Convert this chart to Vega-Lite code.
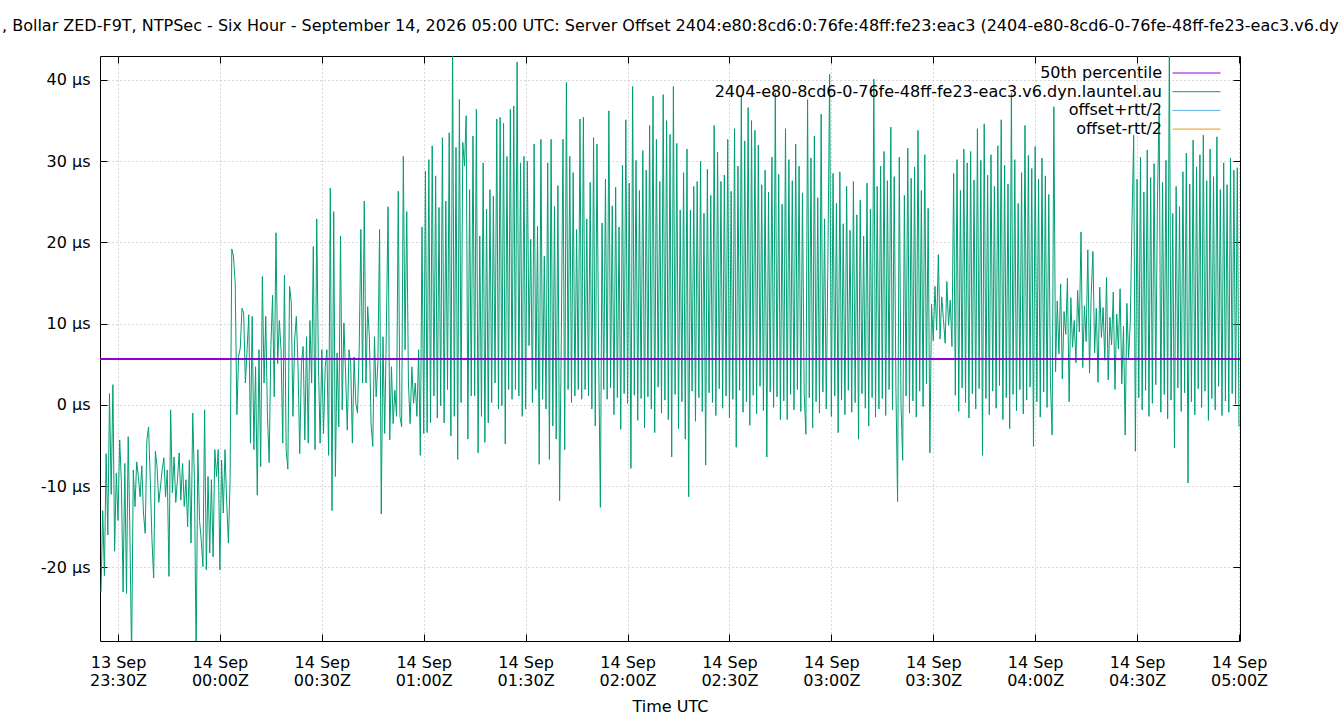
{
"$schema":"https://vega.github.io/schema/vega-lite/v6.json",
"width":1140,"height":585,
"autosize":{"type":"none"},
"padding":{"left":100,"top":56,"right":100,"bottom":79},
"background":"white",
"title":{"text":", Bollar ZED-F9T, NTPSec - Six Hour - September 14, 2026 05:00 UTC: Server Offset 2404:e80:8cd6:0:76fe:48ff:fe23:eac3 (2404-e80-8cd6-0-76fe-48ff-fe23-eac3.v6.dyn.launtel.au)","anchor":"start","frame":"group","dx":-98,"offset":9,"fontSize":16,"fontWeight":"normal","font":"DejaVu Sans","color":"black","baseline":"alphabetic"},
"config":{"font":"DejaVu Sans","view":{"stroke":"black","strokeWidth":1},
"axis":{"labelColor":"black","tickColor":"black","titleColor":"black","labelFontSize":16,"titleFontSize":16,"titleFontWeight":"normal","domain":false,"gridColor":"#b0b0b0","gridDash":[1,3],"tickSize":-7,"labelFlush":false,"labelOverlap":false}},
"data":{"values":[
{"t":"2026-09-13T23:25:00Z","v":-23},{"t":"2026-09-13T23:25:30Z","v":-13},
{"t":"2026-09-13T23:26:00Z","v":-21},{"t":"2026-09-13T23:26:30Z","v":-6},
{"t":"2026-09-13T23:27:00Z","v":-16},{"t":"2026-09-13T23:27:30Z","v":1.4},
{"t":"2026-09-13T23:28:00Z","v":-11},{"t":"2026-09-13T23:28:30Z","v":2.5},
{"t":"2026-09-13T23:29:00Z","v":-18},{"t":"2026-09-13T23:29:30Z","v":-8.4},
{"t":"2026-09-13T23:30:00Z","v":-14.2},{"t":"2026-09-13T23:30:30Z","v":-4.3},
{"t":"2026-09-13T23:31:00Z","v":-9.6},{"t":"2026-09-13T23:31:30Z","v":-23},
{"t":"2026-09-13T23:32:00Z","v":-7.2},{"t":"2026-09-13T23:32:30Z","v":-23.2},
{"t":"2026-09-13T23:33:00Z","v":-3.9},{"t":"2026-09-13T23:33:30Z","v":-15.8},
{"t":"2026-09-13T23:34:00Z","v":-31},{"t":"2026-09-13T23:34:30Z","v":-8},
{"t":"2026-09-13T23:35:00Z","v":-12.5},{"t":"2026-09-13T23:35:30Z","v":-7},
{"t":"2026-09-13T23:36:00Z","v":-8.8},{"t":"2026-09-13T23:36:30Z","v":-11.3},
{"t":"2026-09-13T23:37:00Z","v":-7.5},{"t":"2026-09-13T23:37:30Z","v":-13.3},
{"t":"2026-09-13T23:38:00Z","v":-15.8},{"t":"2026-09-13T23:38:30Z","v":-4.3},
{"t":"2026-09-13T23:39:00Z","v":-2.7},{"t":"2026-09-13T23:39:30Z","v":-9.2},
{"t":"2026-09-13T23:40:00Z","v":-16.6},{"t":"2026-09-13T23:40:30Z","v":-21.3},
{"t":"2026-09-13T23:41:00Z","v":-5.7},{"t":"2026-09-13T23:41:30Z","v":-7.6},
{"t":"2026-09-13T23:42:00Z","v":-12},{"t":"2026-09-13T23:42:30Z","v":-10.1},
{"t":"2026-09-13T23:43:00Z","v":-8},{"t":"2026-09-13T23:43:30Z","v":-6.5},
{"t":"2026-09-13T23:44:00Z","v":-11.3},{"t":"2026-09-13T23:44:30Z","v":-8},
{"t":"2026-09-13T23:45:00Z","v":-21.1},{"t":"2026-09-13T23:45:30Z","v":-0.6},
{"t":"2026-09-13T23:46:00Z","v":-10.8},{"t":"2026-09-13T23:46:30Z","v":-6.4},
{"t":"2026-09-13T23:47:00Z","v":-12},{"t":"2026-09-13T23:47:30Z","v":-9.2},
{"t":"2026-09-13T23:48:00Z","v":-5.9},{"t":"2026-09-13T23:48:30Z","v":-11.7},
{"t":"2026-09-13T23:49:00Z","v":-7.2},{"t":"2026-09-13T23:49:30Z","v":-12.5},
{"t":"2026-09-13T23:50:00Z","v":-9.2},{"t":"2026-09-13T23:50:30Z","v":-15},
{"t":"2026-09-13T23:51:00Z","v":-6.8},{"t":"2026-09-13T23:51:30Z","v":-17},
{"t":"2026-09-13T23:52:00Z","v":-1},{"t":"2026-09-13T23:52:30Z","v":-9.2},
{"t":"2026-09-13T23:53:00Z","v":-31},{"t":"2026-09-13T23:53:30Z","v":-5.5},
{"t":"2026-09-13T23:54:00Z","v":-14.2},{"t":"2026-09-13T23:54:30Z","v":-16.6},
{"t":"2026-09-13T23:55:00Z","v":-19.9},{"t":"2026-09-13T23:55:30Z","v":-0.6},
{"t":"2026-09-13T23:56:00Z","v":-20.3},{"t":"2026-09-13T23:56:30Z","v":-8.8},
{"t":"2026-09-13T23:57:00Z","v":-18.2},{"t":"2026-09-13T23:57:30Z","v":-9.2},
{"t":"2026-09-13T23:58:00Z","v":-18.7},{"t":"2026-09-13T23:58:30Z","v":-5.5},
{"t":"2026-09-13T23:59:00Z","v":-8.8},{"t":"2026-09-13T23:59:30Z","v":-5.5},
{"t":"2026-09-14T00:00:00Z","v":-20.3},{"t":"2026-09-14T00:00:30Z","v":-6.8},
{"t":"2026-09-14T00:01:00Z","v":-13.3},{"t":"2026-09-14T00:01:30Z","v":-5.5},
{"t":"2026-09-14T00:02:00Z","v":-12},{"t":"2026-09-14T00:02:30Z","v":-17},
{"t":"2026-09-14T00:03:00Z","v":-9.2},{"t":"2026-09-14T00:03:30Z","v":19.2},
{"t":"2026-09-14T00:04:00Z","v":18.3},{"t":"2026-09-14T00:04:30Z","v":15},
{"t":"2026-09-14T00:05:00Z","v":-1.2},{"t":"2026-09-14T00:05:30Z","v":6},
{"t":"2026-09-14T00:06:00Z","v":7},{"t":"2026-09-14T00:06:30Z","v":11.9},
{"t":"2026-09-14T00:07:00Z","v":11.3},{"t":"2026-09-14T00:07:30Z","v":2.7},
{"t":"2026-09-14T00:08:00Z","v":6.8},{"t":"2026-09-14T00:08:30Z","v":11.1},
{"t":"2026-09-14T00:09:00Z","v":-4.7},{"t":"2026-09-14T00:09:30Z","v":10.9},
{"t":"2026-09-14T00:10:00Z","v":-5.5},{"t":"2026-09-14T00:10:30Z","v":4.7},
{"t":"2026-09-14T00:11:00Z","v":-11.1},{"t":"2026-09-14T00:11:30Z","v":6.8},
{"t":"2026-09-14T00:12:00Z","v":-7.6},{"t":"2026-09-14T00:12:30Z","v":15.8},
{"t":"2026-09-14T00:13:00Z","v":2.7},{"t":"2026-09-14T00:13:30Z","v":10.9},
{"t":"2026-09-14T00:14:00Z","v":-1.4},{"t":"2026-09-14T00:14:30Z","v":-7.1},
{"t":"2026-09-14T00:15:00Z","v":7.2},{"t":"2026-09-14T00:15:30Z","v":13.5},
{"t":"2026-09-14T00:16:00Z","v":1.0},{"t":"2026-09-14T00:16:30Z","v":21.2},
{"t":"2026-09-14T00:17:00Z","v":5.1},{"t":"2026-09-14T00:17:30Z","v":10.4},
{"t":"2026-09-14T00:18:00Z","v":6.8},{"t":"2026-09-14T00:18:30Z","v":-4.7},
{"t":"2026-09-14T00:19:00Z","v":16},{"t":"2026-09-14T00:19:30Z","v":-5.5},
{"t":"2026-09-14T00:20:00Z","v":-7.9},{"t":"2026-09-14T00:20:30Z","v":14.6},
{"t":"2026-09-14T00:21:00Z","v":12.7},{"t":"2026-09-14T00:21:30Z","v":-1.4},
{"t":"2026-09-14T00:22:00Z","v":8},{"t":"2026-09-14T00:22:30Z","v":10.9},
{"t":"2026-09-14T00:23:00Z","v":4.7},{"t":"2026-09-14T00:23:30Z","v":-6.0},
{"t":"2026-09-14T00:24:00Z","v":5.1},{"t":"2026-09-14T00:24:30Z","v":7.2},
{"t":"2026-09-14T00:25:00Z","v":-4.3},{"t":"2026-09-14T00:25:30Z","v":8.4},
{"t":"2026-09-14T00:26:00Z","v":-4.7},{"t":"2026-09-14T00:26:30Z","v":10.4},
{"t":"2026-09-14T00:27:00Z","v":2.7},{"t":"2026-09-14T00:27:30Z","v":19.5},
{"t":"2026-09-14T00:28:00Z","v":-5.5},{"t":"2026-09-14T00:28:30Z","v":22.9},
{"t":"2026-09-14T00:29:00Z","v":5.1},{"t":"2026-09-14T00:29:30Z","v":-4.7},
{"t":"2026-09-14T00:30:00Z","v":6.8},{"t":"2026-09-14T00:30:30Z","v":-3.5},
{"t":"2026-09-14T00:31:00Z","v":4.7},{"t":"2026-09-14T00:31:30Z","v":6.8},
{"t":"2026-09-14T00:32:00Z","v":-6.2},{"t":"2026-09-14T00:32:30Z","v":26.7},
{"t":"2026-09-14T00:33:00Z","v":-13},{"t":"2026-09-14T00:33:30Z","v":23.8},
{"t":"2026-09-14T00:34:00Z","v":-8.8},{"t":"2026-09-14T00:34:30Z","v":6.4},
{"t":"2026-09-14T00:35:00Z","v":-2.7},{"t":"2026-09-14T00:35:30Z","v":20.8},
{"t":"2026-09-14T00:36:00Z","v":-0.6},{"t":"2026-09-14T00:36:30Z","v":10.1},
{"t":"2026-09-14T00:37:00Z","v":3.9},{"t":"2026-09-14T00:37:30Z","v":-3.1},
{"t":"2026-09-14T00:38:00Z","v":6.8},{"t":"2026-09-14T00:38:30Z","v":5.1},
{"t":"2026-09-14T00:39:00Z","v":-4.7},{"t":"2026-09-14T00:39:30Z","v":5.9},
{"t":"2026-09-14T00:40:00Z","v":0.2},{"t":"2026-09-14T00:40:30Z","v":-1},
{"t":"2026-09-14T00:41:00Z","v":6.8},{"t":"2026-09-14T00:41:30Z","v":21.6},
{"t":"2026-09-14T00:42:00Z","v":2.7},{"t":"2026-09-14T00:42:30Z","v":25.1},
{"t":"2026-09-14T00:43:00Z","v":2.7},{"t":"2026-09-14T00:43:30Z","v":12.1},
{"t":"2026-09-14T00:44:00Z","v":8.4},{"t":"2026-09-14T00:44:30Z","v":-2.3},
{"t":"2026-09-14T00:45:00Z","v":-5.1},{"t":"2026-09-14T00:45:30Z","v":8.4},
{"t":"2026-09-14T00:46:00Z","v":1.0},{"t":"2026-09-14T00:46:30Z","v":5.1},
{"t":"2026-09-14T00:47:00Z","v":21.6},{"t":"2026-09-14T00:47:30Z","v":-13.4},
{"t":"2026-09-14T00:48:00Z","v":8.4},{"t":"2026-09-14T00:48:30Z","v":-3.5},
{"t":"2026-09-14T00:49:00Z","v":9.2},{"t":"2026-09-14T00:49:30Z","v":24.4},
{"t":"2026-09-14T00:50:00Z","v":-4.3},{"t":"2026-09-14T00:50:30Z","v":4.7},
{"t":"2026-09-14T00:51:00Z","v":-2.3},{"t":"2026-09-14T00:51:30Z","v":1.8},
{"t":"2026-09-14T00:52:00Z","v":-1.4},{"t":"2026-09-14T00:52:30Z","v":26.3},
{"t":"2026-09-14T00:53:00Z","v":-1.4},{"t":"2026-09-14T00:53:30Z","v":-2.7},
{"t":"2026-09-14T00:54:00Z","v":30.6},{"t":"2026-09-14T00:54:30Z","v":6.8},
{"t":"2026-09-14T00:55:00Z","v":23.8},{"t":"2026-09-14T00:55:30Z","v":2.7},
{"t":"2026-09-14T00:56:00Z","v":-2.3},{"t":"2026-09-14T00:56:30Z","v":4.7},
{"t":"2026-09-14T00:57:00Z","v":0.2},{"t":"2026-09-14T00:57:30Z","v":2.7},
{"t":"2026-09-14T00:58:00Z","v":-1.4},{"t":"2026-09-14T00:58:30Z","v":6.8},
{"t":"2026-09-14T00:59:00Z","v":-6.2},{"t":"2026-09-14T00:59:30Z","v":21.9},
{"t":"2026-09-14T01:00:00Z","v":-3.5},{"t":"2026-09-14T01:00:30Z","v":28.8},
{"t":"2026-09-14T01:01:00Z","v":-3.4},{"t":"2026-09-14T01:01:30Z","v":30.2},
{"t":"2026-09-14T01:02:00Z","v":-2.2},{"t":"2026-09-14T01:02:30Z","v":31.9},
{"t":"2026-09-14T01:03:00Z","v":1.1},{"t":"2026-09-14T01:03:30Z","v":28.2},
{"t":"2026-09-14T01:04:00Z","v":-1.6},{"t":"2026-09-14T01:04:30Z","v":24.3},
{"t":"2026-09-14T01:05:00Z","v":-0.1},{"t":"2026-09-14T01:05:30Z","v":32.9},
{"t":"2026-09-14T01:06:00Z","v":-2.2},{"t":"2026-09-14T01:06:30Z","v":25.1},
{"t":"2026-09-14T01:07:00Z","v":1.9},{"t":"2026-09-14T01:07:30Z","v":33.5},
{"t":"2026-09-14T01:08:00Z","v":-3.8},{"t":"2026-09-14T01:08:30Z","v":45},
{"t":"2026-09-14T01:09:00Z","v":-1.4},{"t":"2026-09-14T01:09:30Z","v":31.7},
{"t":"2026-09-14T01:10:00Z","v":-6.7},{"t":"2026-09-14T01:10:30Z","v":37.6},
{"t":"2026-09-14T01:11:00Z","v":0.3},{"t":"2026-09-14T01:11:30Z","v":32.3},
{"t":"2026-09-14T01:12:00Z","v":29.4},{"t":"2026-09-14T01:12:30Z","v":35.6},
{"t":"2026-09-14T01:13:00Z","v":-4.2},{"t":"2026-09-14T01:13:30Z","v":26.5},
{"t":"2026-09-14T01:14:00Z","v":1.1},{"t":"2026-09-14T01:14:30Z","v":33.1},
{"t":"2026-09-14T01:15:00Z","v":1.1},{"t":"2026-09-14T01:15:30Z","v":36.4},
{"t":"2026-09-14T01:16:00Z","v":-5.9},{"t":"2026-09-14T01:16:30Z","v":20.8},
{"t":"2026-09-14T01:17:00Z","v":-1.4},{"t":"2026-09-14T01:17:30Z","v":29.8},
{"t":"2026-09-14T01:18:00Z","v":-4.6},{"t":"2026-09-14T01:18:30Z","v":24.1},
{"t":"2026-09-14T01:19:00Z","v":-2.2},{"t":"2026-09-14T01:19:30Z","v":26.5},
{"t":"2026-09-14T01:20:00Z","v":0.3},{"t":"2026-09-14T01:20:30Z","v":25.7},
{"t":"2026-09-14T01:21:00Z","v":2.7},{"t":"2026-09-14T01:21:30Z","v":35.2},
{"t":"2026-09-14T01:22:00Z","v":-0.5},{"t":"2026-09-14T01:22:30Z","v":35.4},
{"t":"2026-09-14T01:23:00Z","v":-0.1},{"t":"2026-09-14T01:23:30Z","v":34.7},
{"t":"2026-09-14T01:24:00Z","v":-4.8},{"t":"2026-09-14T01:24:30Z","v":30.6},
{"t":"2026-09-14T01:25:00Z","v":1.9},{"t":"2026-09-14T01:25:30Z","v":36.4},
{"t":"2026-09-14T01:26:00Z","v":0.7},{"t":"2026-09-14T01:26:30Z","v":36.8},
{"t":"2026-09-14T01:27:00Z","v":1.9},{"t":"2026-09-14T01:27:30Z","v":42.2},
{"t":"2026-09-14T01:28:00Z","v":1.1},{"t":"2026-09-14T01:28:30Z","v":29.8},
{"t":"2026-09-14T01:29:00Z","v":-1.4},{"t":"2026-09-14T01:29:30Z","v":30.6},
{"t":"2026-09-14T01:30:00Z","v":-0.5},{"t":"2026-09-14T01:30:30Z","v":30.0},
{"t":"2026-09-14T01:31:00Z","v":7.3},{"t":"2026-09-14T01:31:30Z","v":20.4},
{"t":"2026-09-14T01:32:00Z","v":0.3},{"t":"2026-09-14T01:32:30Z","v":32.1},
{"t":"2026-09-14T01:33:00Z","v":1.9},{"t":"2026-09-14T01:33:30Z","v":22},
{"t":"2026-09-14T01:34:00Z","v":-7.3},{"t":"2026-09-14T01:34:30Z","v":32.7},
{"t":"2026-09-14T01:35:00Z","v":0.7},{"t":"2026-09-14T01:35:30Z","v":18.3},
{"t":"2026-09-14T01:36:00Z","v":-0.5},{"t":"2026-09-14T01:36:30Z","v":29.8},
{"t":"2026-09-14T01:37:00Z","v":-6.7},{"t":"2026-09-14T01:37:30Z","v":32.7},
{"t":"2026-09-14T01:38:00Z","v":-2.6},{"t":"2026-09-14T01:38:30Z","v":24.5},
{"t":"2026-09-14T01:39:00Z","v":-4.2},{"t":"2026-09-14T01:39:30Z","v":27.0},
{"t":"2026-09-14T01:40:00Z","v":-11.8},{"t":"2026-09-14T01:40:30Z","v":8.1},
{"t":"2026-09-14T01:41:00Z","v":32.7},{"t":"2026-09-14T01:41:30Z","v":-5.5},
{"t":"2026-09-14T01:42:00Z","v":39.7},{"t":"2026-09-14T01:42:30Z","v":1.9},
{"t":"2026-09-14T01:43:00Z","v":30.6},{"t":"2026-09-14T01:43:30Z","v":0.3},
{"t":"2026-09-14T01:44:00Z","v":28.6},{"t":"2026-09-14T01:44:30Z","v":1.1},
{"t":"2026-09-14T01:45:00Z","v":21.6},{"t":"2026-09-14T01:45:30Z","v":1.9},
{"t":"2026-09-14T01:46:00Z","v":35.2},{"t":"2026-09-14T01:46:30Z","v":0.7},
{"t":"2026-09-14T01:47:00Z","v":35.4},{"t":"2026-09-14T01:47:30Z","v":1.9},
{"t":"2026-09-14T01:48:00Z","v":22.9},{"t":"2026-09-14T01:48:30Z","v":1.1},
{"t":"2026-09-14T01:49:00Z","v":27.4},{"t":"2026-09-14T01:49:30Z","v":-0.5},
{"t":"2026-09-14T01:50:00Z","v":32.9},{"t":"2026-09-14T01:50:30Z","v":-2.6},
{"t":"2026-09-14T01:51:00Z","v":32.1},{"t":"2026-09-14T01:51:30Z","v":6.0},
{"t":"2026-09-14T01:52:00Z","v":-12.6},{"t":"2026-09-14T01:52:30Z","v":22.4},
{"t":"2026-09-14T01:53:00Z","v":1.9},{"t":"2026-09-14T01:53:30Z","v":27.8},
{"t":"2026-09-14T01:54:00Z","v":0.7},{"t":"2026-09-14T01:54:30Z","v":36.2},
{"t":"2026-09-14T01:55:00Z","v":2.1},{"t":"2026-09-14T01:55:30Z","v":24.5},
{"t":"2026-09-14T01:56:00Z","v":-1.2},{"t":"2026-09-14T01:56:30Z","v":26.8},
{"t":"2026-09-14T01:57:00Z","v":0.9},{"t":"2026-09-14T01:57:30Z","v":21.9},
{"t":"2026-09-14T01:58:00Z","v":-3.0},{"t":"2026-09-14T01:58:30Z","v":29.5},
{"t":"2026-09-14T01:59:00Z","v":1.4},{"t":"2026-09-14T01:59:30Z","v":35.1},
{"t":"2026-09-14T02:00:00Z","v":0.2},{"t":"2026-09-14T02:00:30Z","v":27.3},
{"t":"2026-09-14T02:01:00Z","v":-7.8},{"t":"2026-09-14T02:01:30Z","v":39.2},
{"t":"2026-09-14T02:02:00Z","v":1.2},{"t":"2026-09-14T02:02:30Z","v":30.1},
{"t":"2026-09-14T02:03:00Z","v":-1.9},{"t":"2026-09-14T02:03:30Z","v":26.4},
{"t":"2026-09-14T02:04:00Z","v":0.8},{"t":"2026-09-14T02:04:30Z","v":31.3},
{"t":"2026-09-14T02:05:00Z","v":-2.8},{"t":"2026-09-14T02:05:30Z","v":28.9},
{"t":"2026-09-14T02:06:00Z","v":1.0},{"t":"2026-09-14T02:06:30Z","v":34.4},
{"t":"2026-09-14T02:07:00Z","v":-0.5},{"t":"2026-09-14T02:07:30Z","v":38.0},
{"t":"2026-09-14T02:08:00Z","v":-3.4},{"t":"2026-09-14T02:08:30Z","v":32.7},
{"t":"2026-09-14T02:09:00Z","v":2.2},{"t":"2026-09-14T02:09:30Z","v":27.5},
{"t":"2026-09-14T02:10:00Z","v":-1.0},{"t":"2026-09-14T02:10:30Z","v":38.2},
{"t":"2026-09-14T02:11:00Z","v":0.6},{"t":"2026-09-14T02:11:30Z","v":35.0},
{"t":"2026-09-14T02:12:00Z","v":-1.8},{"t":"2026-09-14T02:12:30Z","v":33.3},
{"t":"2026-09-14T02:13:00Z","v":-6.4},{"t":"2026-09-14T02:13:30Z","v":39.2},
{"t":"2026-09-14T02:14:00Z","v":1.3},{"t":"2026-09-14T02:14:30Z","v":32.2},
{"t":"2026-09-14T02:15:00Z","v":-2.9},{"t":"2026-09-14T02:15:30Z","v":24.0},
{"t":"2026-09-14T02:16:00Z","v":0.4},{"t":"2026-09-14T02:16:30Z","v":28.6},
{"t":"2026-09-14T02:17:00Z","v":-4.2},{"t":"2026-09-14T02:17:30Z","v":31.5},
{"t":"2026-09-14T02:18:00Z","v":-11.3},{"t":"2026-09-14T02:18:30Z","v":24.0},
{"t":"2026-09-14T02:19:00Z","v":1.7},{"t":"2026-09-14T02:19:30Z","v":26.9},
{"t":"2026-09-14T02:20:00Z","v":-2.0},{"t":"2026-09-14T02:20:30Z","v":27.5},
{"t":"2026-09-14T02:21:00Z","v":0.9},{"t":"2026-09-14T02:21:30Z","v":30.0},
{"t":"2026-09-14T02:22:00Z","v":-0.8},{"t":"2026-09-14T02:22:30Z","v":23.6},
{"t":"2026-09-14T02:23:00Z","v":-7.4},{"t":"2026-09-14T02:23:30Z","v":29.0},
{"t":"2026-09-14T02:24:00Z","v":1.5},{"t":"2026-09-14T02:24:30Z","v":25.8},
{"t":"2026-09-14T02:25:00Z","v":0.3},{"t":"2026-09-14T02:25:30Z","v":34.4},
{"t":"2026-09-14T02:26:00Z","v":-1.3},{"t":"2026-09-14T02:26:30Z","v":31.1},
{"t":"2026-09-14T02:27:00Z","v":2.0},{"t":"2026-09-14T02:27:30Z","v":27.5},
{"t":"2026-09-14T02:28:00Z","v":-0.4},{"t":"2026-09-14T02:28:30Z","v":28.3},
{"t":"2026-09-14T02:29:00Z","v":1.1},{"t":"2026-09-14T02:29:30Z","v":32.7},
{"t":"2026-09-14T02:30:00Z","v":-1.6},{"t":"2026-09-14T02:30:30Z","v":26.3},
{"t":"2026-09-14T02:31:00Z","v":0.7},{"t":"2026-09-14T02:31:30Z","v":34.0},
{"t":"2026-09-14T02:32:00Z","v":-5.2},{"t":"2026-09-14T02:32:30Z","v":29.4},
{"t":"2026-09-14T02:33:00Z","v":1.8},{"t":"2026-09-14T02:33:30Z","v":38.1},
{"t":"2026-09-14T02:34:00Z","v":-0.9},{"t":"2026-09-14T02:34:30Z","v":32.5},
{"t":"2026-09-14T02:35:00Z","v":0.4},{"t":"2026-09-14T02:35:30Z","v":36.6},
{"t":"2026-09-14T02:36:00Z","v":-2.5},{"t":"2026-09-14T02:36:30Z","v":35.0},
{"t":"2026-09-14T02:37:00Z","v":1.2},{"t":"2026-09-14T02:37:30Z","v":33.8},
{"t":"2026-09-14T02:38:00Z","v":-1.1},{"t":"2026-09-14T02:38:30Z","v":32.0},
{"t":"2026-09-14T02:39:00Z","v":2.3},{"t":"2026-09-14T02:39:30Z","v":27.1},
{"t":"2026-09-14T02:40:00Z","v":-0.7},{"t":"2026-09-14T02:40:30Z","v":28.9},
{"t":"2026-09-14T02:41:00Z","v":-6.4},{"t":"2026-09-14T02:41:30Z","v":26.2},
{"t":"2026-09-14T02:42:00Z","v":1.6},{"t":"2026-09-14T02:42:30Z","v":30.5},
{"t":"2026-09-14T02:43:00Z","v":-0.3},{"t":"2026-09-14T02:43:30Z","v":38.4},
{"t":"2026-09-14T02:44:00Z","v":1.0},{"t":"2026-09-14T02:44:30Z","v":28.4},
{"t":"2026-09-14T02:45:00Z","v":-1.8},{"t":"2026-09-14T02:45:30Z","v":24.7},
{"t":"2026-09-14T02:46:00Z","v":0.5},{"t":"2026-09-14T02:46:30Z","v":34.0},
{"t":"2026-09-14T02:47:00Z","v":-1.8},{"t":"2026-09-14T02:47:30Z","v":30.2},
{"t":"2026-09-14T02:48:00Z","v":1.3},{"t":"2026-09-14T02:48:30Z","v":27.6},
{"t":"2026-09-14T02:49:00Z","v":-0.6},{"t":"2026-09-14T02:49:30Z","v":32.1},
{"t":"2026-09-14T02:50:00Z","v":1.9},{"t":"2026-09-14T02:50:30Z","v":29.4},
{"t":"2026-09-14T02:51:00Z","v":-0.8},{"t":"2026-09-14T02:51:30Z","v":26.1},
{"t":"2026-09-14T02:52:00Z","v":1.5},{"t":"2026-09-14T02:52:30Z","v":-3.6},
{"t":"2026-09-14T02:53:00Z","v":37.6},{"t":"2026-09-14T02:53:30Z","v":0.9},
{"t":"2026-09-14T02:54:00Z","v":30.4},{"t":"2026-09-14T02:54:30Z","v":-2.8},
{"t":"2026-09-14T02:55:00Z","v":33.1},{"t":"2026-09-14T02:55:30Z","v":0.4},
{"t":"2026-09-14T02:56:00Z","v":25.5},{"t":"2026-09-14T02:56:30Z","v":-1.0},
{"t":"2026-09-14T02:57:00Z","v":35.8},{"t":"2026-09-14T02:57:30Z","v":1.6},
{"t":"2026-09-14T02:58:00Z","v":22.9},{"t":"2026-09-14T02:58:30Z","v":-0.5},
{"t":"2026-09-14T02:59:00Z","v":18.7},{"t":"2026-09-14T02:59:30Z","v":40.7},
{"t":"2026-09-14T03:00:00Z","v":-1.4},{"t":"2026-09-14T03:00:30Z","v":28.5},
{"t":"2026-09-14T03:01:00Z","v":1.1},{"t":"2026-09-14T03:01:30Z","v":24.8},
{"t":"2026-09-14T03:02:00Z","v":-3.4},{"t":"2026-09-14T03:02:30Z","v":28.7},
{"t":"2026-09-14T03:03:00Z","v":0.6},{"t":"2026-09-14T03:03:30Z","v":22.3},
{"t":"2026-09-14T03:04:00Z","v":-1.2},{"t":"2026-09-14T03:04:30Z","v":26.9},
{"t":"2026-09-14T03:05:00Z","v":1.8},{"t":"2026-09-14T03:05:30Z","v":21.5},
{"t":"2026-09-14T03:06:00Z","v":-0.9},{"t":"2026-09-14T03:06:30Z","v":27.5},
{"t":"2026-09-14T03:07:00Z","v":0.3},{"t":"2026-09-14T03:07:30Z","v":23.4},
{"t":"2026-09-14T03:08:00Z","v":-4.2},{"t":"2026-09-14T03:08:30Z","v":25.2},
{"t":"2026-09-14T03:09:00Z","v":1.4},{"t":"2026-09-14T03:09:30Z","v":20.8},
{"t":"2026-09-14T03:10:00Z","v":-0.4},{"t":"2026-09-14T03:10:30Z","v":27.3},
{"t":"2026-09-14T03:11:00Z","v":-2.6},{"t":"2026-09-14T03:11:30Z","v":24.1},
{"t":"2026-09-14T03:12:00Z","v":0.9},{"t":"2026-09-14T03:12:30Z","v":40.1},
{"t":"2026-09-14T03:13:00Z","v":-1.5},{"t":"2026-09-14T03:13:30Z","v":26.9},
{"t":"2026-09-14T03:14:00Z","v":-0.5},{"t":"2026-09-14T03:14:30Z","v":29.4},
{"t":"2026-09-14T03:15:00Z","v":0.8},{"t":"2026-09-14T03:15:30Z","v":31.2},
{"t":"2026-09-14T03:16:00Z","v":-1.3},{"t":"2026-09-14T03:16:30Z","v":27.6},
{"t":"2026-09-14T03:17:00Z","v":1.9},{"t":"2026-09-14T03:17:30Z","v":34.2},
{"t":"2026-09-14T03:18:00Z","v":-0.6},{"t":"2026-09-14T03:18:30Z","v":28.1},
{"t":"2026-09-14T03:19:00Z","v":2.3},{"t":"2026-09-14T03:19:30Z","v":-11.9},
{"t":"2026-09-14T03:20:00Z","v":30.5},{"t":"2026-09-14T03:20:30Z","v":0.2},
{"t":"2026-09-14T03:21:00Z","v":-6.8},{"t":"2026-09-14T03:21:30Z","v":25.8},
{"t":"2026-09-14T03:22:00Z","v":1.1},{"t":"2026-09-14T03:22:30Z","v":31.6},
{"t":"2026-09-14T03:23:00Z","v":-1.0},{"t":"2026-09-14T03:23:30Z","v":27.9},
{"t":"2026-09-14T03:24:00Z","v":0.5},{"t":"2026-09-14T03:24:30Z","v":29.3},
{"t":"2026-09-14T03:25:00Z","v":-1.5},{"t":"2026-09-14T03:25:30Z","v":33.8},
{"t":"2026-09-14T03:26:00Z","v":1.7},{"t":"2026-09-14T03:26:30Z","v":26.4},
{"t":"2026-09-14T03:27:00Z","v":-0.2},{"t":"2026-09-14T03:27:30Z","v":30.8},
{"t":"2026-09-14T03:28:00Z","v":2.6},{"t":"2026-09-14T03:28:30Z","v":24.2},
{"t":"2026-09-14T03:29:00Z","v":-5.9},{"t":"2026-09-14T03:29:30Z","v":12.4},
{"t":"2026-09-14T03:30:00Z","v":7.9},{"t":"2026-09-14T03:30:30Z","v":14.6},
{"t":"2026-09-14T03:31:00Z","v":9.2},{"t":"2026-09-14T03:31:30Z","v":18.5},
{"t":"2026-09-14T03:32:00Z","v":8.1},{"t":"2026-09-14T03:32:30Z","v":13.3},
{"t":"2026-09-14T03:33:00Z","v":10.5},{"t":"2026-09-14T03:33:30Z","v":7.6},
{"t":"2026-09-14T03:34:00Z","v":15.2},{"t":"2026-09-14T03:34:30Z","v":9.8},
{"t":"2026-09-14T03:35:00Z","v":12.9},{"t":"2026-09-14T03:35:30Z","v":7.2},
{"t":"2026-09-14T03:36:00Z","v":28.5},{"t":"2026-09-14T03:36:30Z","v":1.2},
{"t":"2026-09-14T03:37:00Z","v":30.2},{"t":"2026-09-14T03:37:30Z","v":-0.8},
{"t":"2026-09-14T03:38:00Z","v":26.4},{"t":"2026-09-14T03:38:30Z","v":2.1},
{"t":"2026-09-14T03:39:00Z","v":31.5},{"t":"2026-09-14T03:39:30Z","v":0.3},
{"t":"2026-09-14T03:40:00Z","v":29.8},{"t":"2026-09-14T03:40:30Z","v":-1.6},
{"t":"2026-09-14T03:41:00Z","v":31.2},{"t":"2026-09-14T03:41:30Z","v":1.4},
{"t":"2026-09-14T03:42:00Z","v":27.7},{"t":"2026-09-14T03:42:30Z","v":-0.5},
{"t":"2026-09-14T03:43:00Z","v":34.0},{"t":"2026-09-14T03:43:30Z","v":2.0},
{"t":"2026-09-14T03:44:00Z","v":30.1},{"t":"2026-09-14T03:44:30Z","v":-6.2},
{"t":"2026-09-14T03:45:00Z","v":34.6},{"t":"2026-09-14T03:45:30Z","v":0.8},
{"t":"2026-09-14T03:46:00Z","v":28.3},{"t":"2026-09-14T03:46:30Z","v":-1.2},
{"t":"2026-09-14T03:47:00Z","v":30.8},{"t":"2026-09-14T03:47:30Z","v":1.7},
{"t":"2026-09-14T03:48:00Z","v":26.9},{"t":"2026-09-14T03:48:30Z","v":-0.4},
{"t":"2026-09-14T03:49:00Z","v":31.9},{"t":"2026-09-14T03:49:30Z","v":2.4},
{"t":"2026-09-14T03:50:00Z","v":35.1},{"t":"2026-09-14T03:50:30Z","v":-1.8},
{"t":"2026-09-14T03:51:00Z","v":29.5},{"t":"2026-09-14T03:51:30Z","v":0.9},
{"t":"2026-09-14T03:52:00Z","v":27.2},{"t":"2026-09-14T03:52:30Z","v":-2.9},
{"t":"2026-09-14T03:53:00Z","v":38.4},{"t":"2026-09-14T03:53:30Z","v":1.3},
{"t":"2026-09-14T03:54:00Z","v":30.2},{"t":"2026-09-14T03:54:30Z","v":-0.7},
{"t":"2026-09-14T03:55:00Z","v":24.8},{"t":"2026-09-14T03:55:30Z","v":1.9},
{"t":"2026-09-14T03:56:00Z","v":28.6},{"t":"2026-09-14T03:56:30Z","v":-1.1},
{"t":"2026-09-14T03:57:00Z","v":34.4},{"t":"2026-09-14T03:57:30Z","v":0.6},
{"t":"2026-09-14T03:58:00Z","v":30.7},{"t":"2026-09-14T03:58:30Z","v":2.2},
{"t":"2026-09-14T03:59:00Z","v":29.1},{"t":"2026-09-14T03:59:30Z","v":-5.1},
{"t":"2026-09-14T04:00:00Z","v":31.8},{"t":"2026-09-14T04:00:30Z","v":0.4},
{"t":"2026-09-14T04:01:00Z","v":27.8},{"t":"2026-09-14T04:01:30Z","v":-1.5},
{"t":"2026-09-14T04:02:00Z","v":30.4},{"t":"2026-09-14T04:02:30Z","v":1.6},
{"t":"2026-09-14T04:03:00Z","v":28.2},{"t":"2026-09-14T04:03:30Z","v":-0.3},
{"t":"2026-09-14T04:04:00Z","v":25.9},{"t":"2026-09-14T04:04:30Z","v":2.8},
{"t":"2026-09-14T04:05:00Z","v":-3.7},{"t":"2026-09-14T04:05:30Z","v":36.7},
{"t":"2026-09-14T04:06:00Z","v":4.1},{"t":"2026-09-14T04:06:30Z","v":12.8},
{"t":"2026-09-14T04:07:00Z","v":6.3},{"t":"2026-09-14T04:07:30Z","v":14.9},
{"t":"2026-09-14T04:08:00Z","v":3.2},{"t":"2026-09-14T04:08:30Z","v":11.5},
{"t":"2026-09-14T04:09:00Z","v":8.7},{"t":"2026-09-14T04:09:30Z","v":15.6},
{"t":"2026-09-14T04:10:00Z","v":0.4},{"t":"2026-09-14T04:10:30Z","v":13.2},
{"t":"2026-09-14T04:11:00Z","v":7.1},{"t":"2026-09-14T04:11:30Z","v":10.4},
{"t":"2026-09-14T04:12:00Z","v":5.2},{"t":"2026-09-14T04:12:30Z","v":14.1},
{"t":"2026-09-14T04:13:00Z","v":9.0},{"t":"2026-09-14T04:13:30Z","v":21.3},
{"t":"2026-09-14T04:14:00Z","v":4.6},{"t":"2026-09-14T04:14:30Z","v":12.2},
{"t":"2026-09-14T04:15:00Z","v":7.8},{"t":"2026-09-14T04:15:30Z","v":19.1},
{"t":"2026-09-14T04:16:00Z","v":3.9},{"t":"2026-09-14T04:16:30Z","v":13.6},
{"t":"2026-09-14T04:17:00Z","v":18.9},{"t":"2026-09-14T04:17:30Z","v":6.4},
{"t":"2026-09-14T04:18:00Z","v":11.9},{"t":"2026-09-14T04:18:30Z","v":2.8},
{"t":"2026-09-14T04:19:00Z","v":14.5},{"t":"2026-09-14T04:19:30Z","v":8.3},
{"t":"2026-09-14T04:20:00Z","v":12.0},{"t":"2026-09-14T04:20:30Z","v":5.5},
{"t":"2026-09-14T04:21:00Z","v":15.7},{"t":"2026-09-14T04:21:30Z","v":3.1},
{"t":"2026-09-14T04:22:00Z","v":10.8},{"t":"2026-09-14T04:22:30Z","v":7.4},
{"t":"2026-09-14T04:23:00Z","v":13.9},{"t":"2026-09-14T04:23:30Z","v":1.9},
{"t":"2026-09-14T04:24:00Z","v":11.2},{"t":"2026-09-14T04:24:30Z","v":6.9},
{"t":"2026-09-14T04:25:00Z","v":14.3},{"t":"2026-09-14T04:25:30Z","v":2.6},
{"t":"2026-09-14T04:26:00Z","v":9.7},{"t":"2026-09-14T04:26:30Z","v":-3.7},
{"t":"2026-09-14T04:27:00Z","v":12.5},{"t":"2026-09-14T04:27:30Z","v":5.8},
{"t":"2026-09-14T04:28:00Z","v":10.1},{"t":"2026-09-14T04:28:30Z","v":22.5},
{"t":"2026-09-14T04:29:00Z","v":33.2},{"t":"2026-09-14T04:29:30Z","v":-5.7},
{"t":"2026-09-14T04:30:00Z","v":27.8},{"t":"2026-09-14T04:30:30Z","v":0.9},
{"t":"2026-09-14T04:31:00Z","v":30.5},{"t":"2026-09-14T04:31:30Z","v":-0.6},
{"t":"2026-09-14T04:32:00Z","v":26.2},{"t":"2026-09-14T04:32:30Z","v":1.8},
{"t":"2026-09-14T04:33:00Z","v":31.4},{"t":"2026-09-14T04:33:30Z","v":-1.4},
{"t":"2026-09-14T04:34:00Z","v":28.0},{"t":"2026-09-14T04:34:30Z","v":0.2},
{"t":"2026-09-14T04:35:00Z","v":29.7},{"t":"2026-09-14T04:35:30Z","v":2.5},
{"t":"2026-09-14T04:36:00Z","v":25.3},{"t":"2026-09-14T04:36:30Z","v":36.7},
{"t":"2026-09-14T04:37:00Z","v":-0.9},{"t":"2026-09-14T04:37:30Z","v":27.4},
{"t":"2026-09-14T04:38:00Z","v":1.3},{"t":"2026-09-14T04:38:30Z","v":30.1},
{"t":"2026-09-14T04:39:00Z","v":-1.7},{"t":"2026-09-14T04:39:30Z","v":45},
{"t":"2026-09-14T04:40:00Z","v":0.6},{"t":"2026-09-14T04:40:30Z","v":23.6},
{"t":"2026-09-14T04:41:00Z","v":-5.3},{"t":"2026-09-14T04:41:30Z","v":26.9},
{"t":"2026-09-14T04:42:00Z","v":2.1},{"t":"2026-09-14T04:42:30Z","v":24.4},
{"t":"2026-09-14T04:43:00Z","v":-0.8},{"t":"2026-09-14T04:43:30Z","v":28.7},
{"t":"2026-09-14T04:44:00Z","v":1.5},{"t":"2026-09-14T04:44:30Z","v":31.0},
{"t":"2026-09-14T04:45:00Z","v":-9.6},{"t":"2026-09-14T04:45:30Z","v":27.2},
{"t":"2026-09-14T04:46:00Z","v":0.4},{"t":"2026-09-14T04:46:30Z","v":32.6},
{"t":"2026-09-14T04:47:00Z","v":-1.2},{"t":"2026-09-14T04:47:30Z","v":29.3},
{"t":"2026-09-14T04:48:00Z","v":2.0},{"t":"2026-09-14T04:48:30Z","v":30.8},
{"t":"2026-09-14T04:49:00Z","v":-0.3},{"t":"2026-09-14T04:49:30Z","v":33.2},
{"t":"2026-09-14T04:50:00Z","v":1.7},{"t":"2026-09-14T04:50:30Z","v":27.6},
{"t":"2026-09-14T04:51:00Z","v":-1.9},{"t":"2026-09-14T04:51:30Z","v":31.5},
{"t":"2026-09-14T04:52:00Z","v":0.8},{"t":"2026-09-14T04:52:30Z","v":28.1},
{"t":"2026-09-14T04:53:00Z","v":-0.6},{"t":"2026-09-14T04:53:30Z","v":33.0},
{"t":"2026-09-14T04:54:00Z","v":2.3},{"t":"2026-09-14T04:54:30Z","v":26.5},
{"t":"2026-09-14T04:55:00Z","v":-1.3},{"t":"2026-09-14T04:55:30Z","v":29.8},
{"t":"2026-09-14T04:56:00Z","v":0.5},{"t":"2026-09-14T04:56:30Z","v":27.1},
{"t":"2026-09-14T04:57:00Z","v":-0.9},{"t":"2026-09-14T04:57:30Z","v":30.4},
{"t":"2026-09-14T04:58:00Z","v":1.4},{"t":"2026-09-14T04:58:30Z","v":28.9},
{"t":"2026-09-14T04:59:00Z","v":0.1},{"t":"2026-09-14T04:59:30Z","v":29.2},
{"t":"2026-09-14T05:00:00Z","v":-2.7}
]},
"layer":[
{"mark":{"type":"line","clip":true,"strokeWidth":1},
"encoding":{
"x":{"field":"t","type":"temporal","scale":{"type":"utc","domain":[{"year":2026,"month":9,"date":13,"hours":23,"minutes":24,"seconds":42,"utc":true},{"year":2026,"month":9,"date":14,"hours":5,"minutes":0,"seconds":18,"utc":true}]},
"axis":{"orient":"bottom","grid":true,"values":[{"year":2026,"month":9,"date":13,"hours":23,"minutes":30,"utc":true},{"year":2026,"month":9,"date":14,"hours":0,"minutes":0,"utc":true},{"year":2026,"month":9,"date":14,"hours":0,"minutes":30,"utc":true},{"year":2026,"month":9,"date":14,"hours":1,"minutes":0,"utc":true},{"year":2026,"month":9,"date":14,"hours":1,"minutes":30,"utc":true},{"year":2026,"month":9,"date":14,"hours":2,"minutes":0,"utc":true},{"year":2026,"month":9,"date":14,"hours":2,"minutes":30,"utc":true},{"year":2026,"month":9,"date":14,"hours":3,"minutes":0,"utc":true},{"year":2026,"month":9,"date":14,"hours":3,"minutes":30,"utc":true},{"year":2026,"month":9,"date":14,"hours":4,"minutes":0,"utc":true},{"year":2026,"month":9,"date":14,"hours":4,"minutes":30,"utc":true},{"year":2026,"month":9,"date":14,"hours":5,"minutes":0,"utc":true}],"format":"%d %b","labelPadding":20,"title":null}},
"y":{"field":"v","type":"quantitative","scale":{"domain":[-29.05,42.95],"nice":false,"zero":false},
"axis":{"orient":"left","grid":true,"values":[-20,-10,0,10,20,30,40],"labelExpr":"datum.value + ' µs'","labelPadding":17,"title":null}},
"color":{"datum":"2404-e80-8cd6-0-76fe-48ff-fe23-eac3.v6.dyn.launtel.au","type":"nominal",
"scale":{"domain":["50th percentile","2404-e80-8cd6-0-76fe-48ff-fe23-eac3.v6.dyn.launtel.au","offset+rtt/2","offset-rtt/2"],"range":["#9400d3","#009e73","#56b4e9","#e69f00"]},
"legend":{"title":null,"orient":"none","legendX":1064.5,"legendY":9,"symbolType":"M-96,0L-96,0M0,0L9.6,0","symbolSize":100,"symbolStrokeWidth":1,"labelAlign":"right","labelOffset":-18.5,"labelFontSize":16,"labelColor":"black","labelLimit":600,"rowPadding":2.7,"padding":0}}}},
{"mark":{"type":"rule","strokeWidth":1},
"encoding":{"y":{"datum":5.6,"type":"quantitative","axis":null},"color":{"datum":"50th percentile","type":"nominal"}}},
{"mark":{"type":"line","strokeOpacity":0,"clip":true},
"encoding":{
"x":{"field":"t","type":"temporal","axis":{"orient":"bottom","ticks":false,"grid":false,"values":[{"year":2026,"month":9,"date":13,"hours":23,"minutes":30,"utc":true},{"year":2026,"month":9,"date":14,"hours":0,"minutes":0,"utc":true},{"year":2026,"month":9,"date":14,"hours":0,"minutes":30,"utc":true},{"year":2026,"month":9,"date":14,"hours":1,"minutes":0,"utc":true},{"year":2026,"month":9,"date":14,"hours":1,"minutes":30,"utc":true},{"year":2026,"month":9,"date":14,"hours":2,"minutes":0,"utc":true},{"year":2026,"month":9,"date":14,"hours":2,"minutes":30,"utc":true},{"year":2026,"month":9,"date":14,"hours":3,"minutes":0,"utc":true},{"year":2026,"month":9,"date":14,"hours":3,"minutes":30,"utc":true},{"year":2026,"month":9,"date":14,"hours":4,"minutes":0,"utc":true},{"year":2026,"month":9,"date":14,"hours":4,"minutes":30,"utc":true},{"year":2026,"month":9,"date":14,"hours":5,"minutes":0,"utc":true}],"format":"%H:%MZ","labelPadding":31.4,"title":"Time UTC","titlePadding":10}},
"y":{"field":"v","type":"quantitative","axis":{"orient":"right","labels":false,"grid":false,"title":null,"values":[-20,-10,0,10,20,30,40]}}}},
{"mark":{"type":"line","strokeOpacity":0,"clip":true},
"encoding":{
"x":{"field":"t","type":"temporal","axis":{"orient":"top","labels":false,"grid":false,"title":null,"values":[{"year":2026,"month":9,"date":13,"hours":23,"minutes":30,"utc":true},{"year":2026,"month":9,"date":14,"hours":0,"minutes":0,"utc":true},{"year":2026,"month":9,"date":14,"hours":0,"minutes":30,"utc":true},{"year":2026,"month":9,"date":14,"hours":1,"minutes":0,"utc":true},{"year":2026,"month":9,"date":14,"hours":1,"minutes":30,"utc":true},{"year":2026,"month":9,"date":14,"hours":2,"minutes":0,"utc":true},{"year":2026,"month":9,"date":14,"hours":2,"minutes":30,"utc":true},{"year":2026,"month":9,"date":14,"hours":3,"minutes":0,"utc":true},{"year":2026,"month":9,"date":14,"hours":3,"minutes":30,"utc":true},{"year":2026,"month":9,"date":14,"hours":4,"minutes":0,"utc":true},{"year":2026,"month":9,"date":14,"hours":4,"minutes":30,"utc":true},{"year":2026,"month":9,"date":14,"hours":5,"minutes":0,"utc":true}]}},
"y":{"field":"v","type":"quantitative","axis":null}}}
],
"resolve":{"axis":{"x":"independent","y":"independent"}}
}
